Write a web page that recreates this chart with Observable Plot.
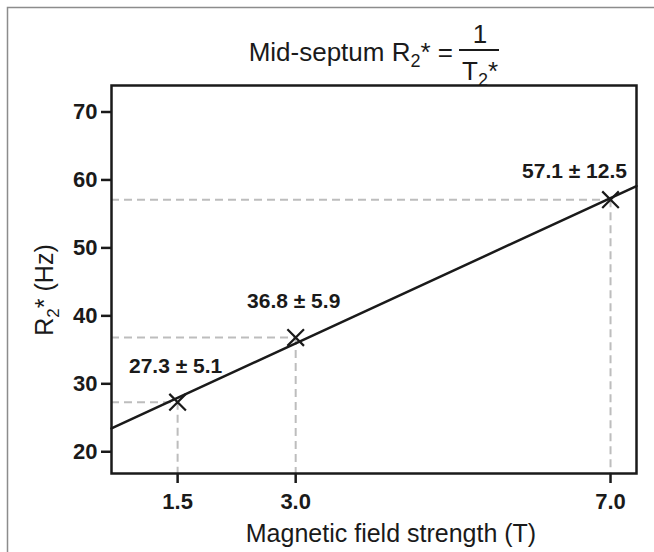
<!DOCTYPE html>
<html><head><meta charset="utf-8">
<script src="https://cdn.jsdelivr.net/npm/d3@7"></script>
<script src="https://cdn.jsdelivr.net/npm/@observablehq/plot@0.6"></script>
<style>
body{margin:0;background:#fff;}
#chart{position:relative;width:654px;height:552px;overflow:hidden;}
</style></head><body><div id="chart"></div>
<script>
// Data
const fieldStrength = [1.5, 3.0, 7.0];          // T
const r2Mean = [27.3, 36.8, 57.1];              // Hz
const r2SD = [5.1, 5.9, 12.5];                  // Hz
const xTicks = [1.5, 3.0, 7.0];
const yTicks = [20, 30, 40, 50, 60, 70];
const xDomain = [0.66, 7.33];
const yDomain = [16.8, 73.9];

const data = fieldStrength.map((b, i) => ({
  b, r: r2Mean[i], sd: r2SD[i],
  label: `${r2Mean[i].toFixed(1)} ± ${r2SD[i].toFixed(1)}`
}));

// least-squares regression line through the three means, drawn across the frame
const mx = d3.mean(fieldStrength), my = d3.mean(r2Mean);
const slope = d3.sum(data, d => (d.b - mx) * (d.r - my)) / d3.sum(data, d => (d.b - mx) ** 2);
const intercept = my - slope * mx;
const fit = xDomain.map(b => ({b, r: intercept + slope * b}));

const ink = "#1a1a1a";
const dash = {stroke: "#bdbdbd", strokeWidth: 2, strokeDasharray: "8,5"};

const plot = Plot.plot({
  width: 654, height: 552,
  marginLeft: 111, marginRight: 18, marginTop: 85, marginBottom: 79,
  style: {fontFamily: "'Liberation Sans', Arial, sans-serif", background: "transparent", color: ink},
  x: {domain: xDomain, label: null},
  y: {domain: yDomain, label: null},
  marks: [
    Plot.ruleY(data, {y: "r", x1: () => xDomain[0], x2: "b", ...dash}),
    Plot.ruleX(data, {x: "b", y1: "r", y2: () => yDomain[0], ...dash}),
    Plot.line(fit, {x: "b", y: "r", stroke: ink, strokeWidth: 2.5}),
    Plot.dot(data, {x: "b", y: "r", symbol: "times", r: 7.6, stroke: ink, strokeWidth: 2.2}),
    Plot.text(data, {filter: (d, i) => i < 2, x: "b", y: "r", text: "label", dx: -2, dy: -36, fontSize: 21, fontWeight: "bold", fill: ink}),
    Plot.text(data, {filter: (d, i) => i === 2, x: "b", y: "r", text: "label", dx: -36, dy: -28, fontSize: 21, fontWeight: "bold", fill: ink}),
    Plot.frame({stroke: ink, strokeWidth: 2.5}),
    Plot.axisX({ticks: xTicks, tickFormat: d3.format(".1f"), tickSize: 10, tickPadding: 10, fontSize: 22, fontWeight: "bold", strokeWidth: 2.5, label: null}),
    Plot.axisY({ticks: yTicks, tickSize: 10, tickPadding: 4, fontSize: 22, fontWeight: "bold", strokeWidth: 2.5, label: null})
  ]
});
document.getElementById("chart").appendChild(plot);

const svg = d3.select(plot);
const font = "'Liberation Sans', Arial, sans-serif";

// outer border
svg.insert("path", ":first-child")
  .attr("d", "M7.5,552 V7.5 H654")
  .attr("fill", "none").attr("stroke", "#8c8c8c").attr("stroke-width", 1.5);

// title: Mid-septum R2* = 1 / T2*
const title = svg.append("g").attr("font-family", font).attr("font-size", 26).attr("fill", ink);
const t1 = title.append("text").attr("x", 453).attr("y", 61).attr("text-anchor", "end");
t1.append("tspan").text("Mid-septum R");
t1.append("tspan").attr("font-size", 18).attr("dy", 6).text("2");
t1.append("tspan").attr("dy", -6).text("* =");
title.append("text").attr("x", 480).attr("y", 43).attr("text-anchor", "middle").text("1");
title.append("line").attr("x1", 459).attr("x2", 499).attr("y1", 50).attr("y2", 50)
  .attr("stroke", ink).attr("stroke-width", 2);
const t2 = title.append("text").attr("x", 480).attr("y", 80).attr("text-anchor", "middle");
t2.append("tspan").text("T");
t2.append("tspan").attr("font-size", 18).attr("dy", 6).text("2");
t2.append("tspan").attr("dy", -6).text("*");

// y-axis label: R2* (Hz)
const yl = svg.append("text").attr("font-family", font).attr("font-size", 25).attr("fill", ink)
  .attr("text-anchor", "middle").attr("transform", "translate(53,290) rotate(-90)");
yl.append("tspan").text("R");
yl.append("tspan").attr("font-size", 17).attr("dy", 6).text("2");
yl.append("tspan").attr("dy", -6).text("* (Hz)");

// x-axis label
svg.append("text").attr("font-family", font).attr("font-size", 25).attr("fill", ink)
  .attr("text-anchor", "middle").attr("x", 391).attr("y", 542)
  .text("Magnetic field strength (T)");
</script>
</body></html>
